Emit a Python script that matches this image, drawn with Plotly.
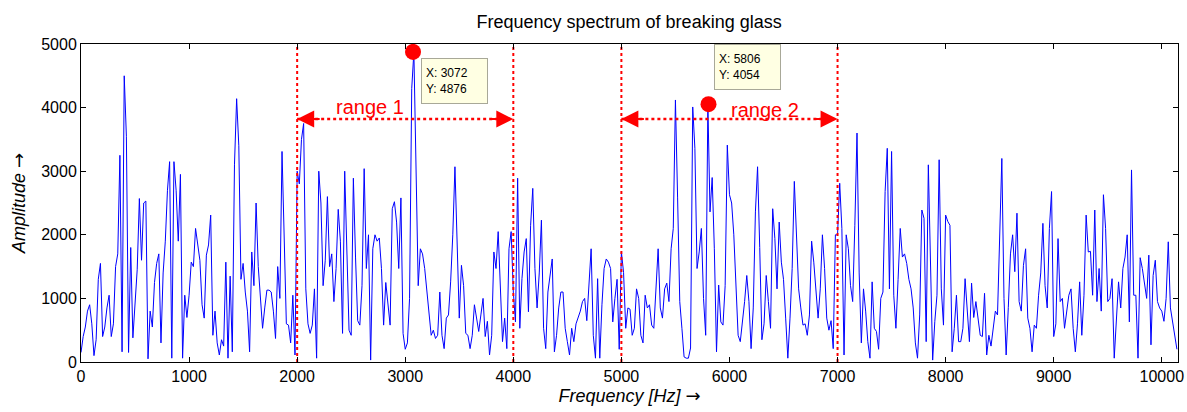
import numpy as np
import plotly.graph_objects as go

# ---- data ----
bin_hz = 20  # spectral bin spacing used for the readout

block0 = [150,400,550,800,900,600,100,350,1300,1550,400,550,850,1050,400,600,1500,1700,3250,160,
          4500,3550,150,1800,380,1000,1450,2570,1600,2500,2530,50,800,550,1250,1550,1700,300,1400,1900,
          2700,3150,60,3150,2700,1900,2950,60,1050,700]
block1 = [1050,1570,1500,2100,1800,1600,900,690,1680,1840,2310,420,800,300,110,350,250,1570,60,1350,
          160,3100,4140,3400,1300,1550,1100,800,160,1730,1200,2500,1500,950,530,850,1130,1130,1100,800,
          370,1500,1000,3310,2000,600,580,300,1050,110]
block2 = [3000,2800,3500,3750,1150,600,450,580,1150,60,3000,2500,1200,1600,2600,1500,1700,950,1470,2400,
          1900,450,3000,1700,500,420,2890,1650,650,580,1200,3040,1470,2000,30,1780,2000,1900,1950,1470,
          580,1250,890,580,2410,2520,2200,1470,2580,450]
block3 = [200,300,1000,4300,4876,2890,1200,1780,1700,1470,1100,800,420,500,370,420,1100,420,210,690,
          740,1260,2000,3070,1780,690,1520,1200,450,420,210,420,900,690,480,740,1000,400,640,110,
          420,1730,1470,2050,1300,320,690,210,1780,2050]
block4 = [1100,630,2890,530,1310,1730,1940,790,2150,2730,1470,850,1400,2230,530,210,1100,1410,1620,160,
          420,850,1100,1100,530,320,110,530,320,600,700,800,950,1000,650,1200,1780,420,60,1310,
          60,900,1470,1620,1570,1470,630,1000,1300,200]
block5 = [1730,1410,530,850,830,420,530,1150,1000,420,300,1050,850,900,580,530,1210,1780,850,690,
          1150,1240,950,1780,2100,4120,2580,950,530,80,60,60,220,4010,3360,1470,1730,2100,1000,420,
          4054,2360,2900,1780,160,1210,630,580,1200,3410]
block6 = [2630,2500,2000,1100,420,320,600,950,1360,950,210,850,2360,3070,1800,350,600,1360,950,530,
          2410,1940,1150,2200,1570,1300,690,60,690,1470,2840,1840,1150,850,580,600,420,740,1900,1570,
          1050,690,1150,2000,1470,690,500,650,210,2000]
block7 = [2000,2810,2100,110,2000,1780,1200,950,2150,3600,1400,300,1150,800,320,60,1260,530,480,200,
          1000,1100,2680,3360,1150,3310,1050,530,1300,2100,1650,1700,1550,1300,1150,850,300,60,740,2390,
          2260,320,3100,1650,30,640,1050,3180,1150,580]
block8 = [2310,2210,2150,160,530,1050,320,320,530,1310,800,320,1240,700,950,640,420,400,1080,110,
          420,250,580,800,740,1940,3200,1000,110,860,1700,2000,1420,2340,950,800,1520,1780,690,530,
          160,580,530,1050,1400,2180,1200,850,2100,2680]
block9 = [400,600,1940,950,1000,530,790,1050,1150,530,160,600,1260,420,1050,2310,1730,1740,1050,2390,
          950,1470,800,2630,2100,950,1000,1310,60,740,1260,850,1470,1650,2000,630,3020,1050,1050,60,
          1640,1470,1260,1000,1680,270,1360,1600,950,850,800,640,1000,1890,850,640,370,200]

amplitude = block0 + block1 + block2 + block3 + block4 + block5 + block6 + block7 + block8 + block9
frequency = list(np.arange(len(amplitude)) * bin_hz)

range_lines = [2000, 4000, 5000, 7000]
range_starts = [2000, 5000]
range_ends = [4000, 7000]
range_arrow_y = [3820, 3820]
range_labels = ["range 1", "range 2"]
range_label_x = [2673, 6330]
range_label_y = [4010, 3960]

tip_x = [3072, 5806]
tip_y = [4876, 4054]
tip_box_x = [3145, 5856]
tip_box_y = [4780, 4998]

x_ticks = list(range(0, 10001, 1000))
x_tick_text = [str(v) for v in x_ticks]
y_ticks = list(range(0, 5001, 1000))
x_max = 10150
y_max = 5000

RED = "#FF0000"
FONT = "Liberation Sans"
ARROW = "<span style='font-family:DejaVu Sans'>→</span>"

fig = go.Figure()

fig.add_trace(go.Scatter(x=frequency, y=amplitude, mode="lines",
                         line=dict(color="#0000FF", width=1), hoverinfo="skip"))

for v in range_lines:
    fig.add_trace(go.Scatter(x=[v, v], y=[0, y_max], mode="lines",
                             line=dict(color=RED, width=2, dash="dot"), hoverinfo="skip"))

for a, b, yy, label, lx, ly in zip(range_starts, range_ends, range_arrow_y,
                                   range_labels, range_label_x, range_label_y):
    fig.add_trace(go.Scatter(x=[a, b], y=[yy, yy], mode="lines",
                             line=dict(color=RED, width=2.5, dash="dot"), hoverinfo="skip"))
    for end, off in ((a, 24), (b, -24)):
        fig.add_annotation(x=end, y=yy, ax=off, ay=0, text="", showarrow=True,
                           arrowhead=2, arrowsize=1.7, arrowwidth=2, arrowcolor=RED)
    fig.add_annotation(x=lx, y=ly, text=label, showarrow=False,
                       font=dict(family=FONT, size=20, color=RED))

fig.add_trace(go.Scatter(x=tip_x, y=tip_y, mode="markers",
                         marker=dict(color=RED, size=16), hoverinfo="skip"))

for bx, by, tx, ty in zip(tip_box_x, tip_box_y, tip_x, tip_y):
    fig.add_annotation(x=bx, y=by, xanchor="left", yanchor="top", align="left",
                       text=f"X: {tx}<br>Y: {ty}", showarrow=False,
                       width=57, height=36,
                       bgcolor="#FFFFE3", bordercolor="#A8A898", borderwidth=1, borderpad=4,
                       font=dict(family=FONT, size=12, color="black"))

axis_common = dict(showline=True, linecolor="black", linewidth=1, mirror="allticks",
                   ticks="inside", ticklen=5, tickcolor="black", showgrid=False, zeroline=False,
                   automargin=False,
                   tickfont=dict(family=FONT, size=16, color="black"))

fig.update_layout(
    width=1187, height=412,
    margin=dict(l=81, r=9, t=44, b=50, autoexpand=False),
    paper_bgcolor="white", plot_bgcolor="white",
    showlegend=False,
    title=dict(text="Frequency spectrum of breaking glass", x=0.53, xanchor="center",
               y=1 - 22 / 412, yanchor="middle", yref="container",
               font=dict(family=FONT, size=18, color="black")),
    xaxis=dict(range=[0, x_max], tickvals=x_ticks, ticktext=x_tick_text, **axis_common,
               title=dict(text=f"<i>Frequency [Hz] </i>{ARROW}", standoff=4,
                          font=dict(family=FONT, size=18, color="black"))),
    yaxis=dict(range=[0, y_max], tickvals=y_ticks, **axis_common,
               title=dict(text=f"<i>Amplitude </i>{ARROW}", standoff=10,
                          font=dict(family=FONT, size=18, color="black"))),
)

fig.write_html("out.html")
